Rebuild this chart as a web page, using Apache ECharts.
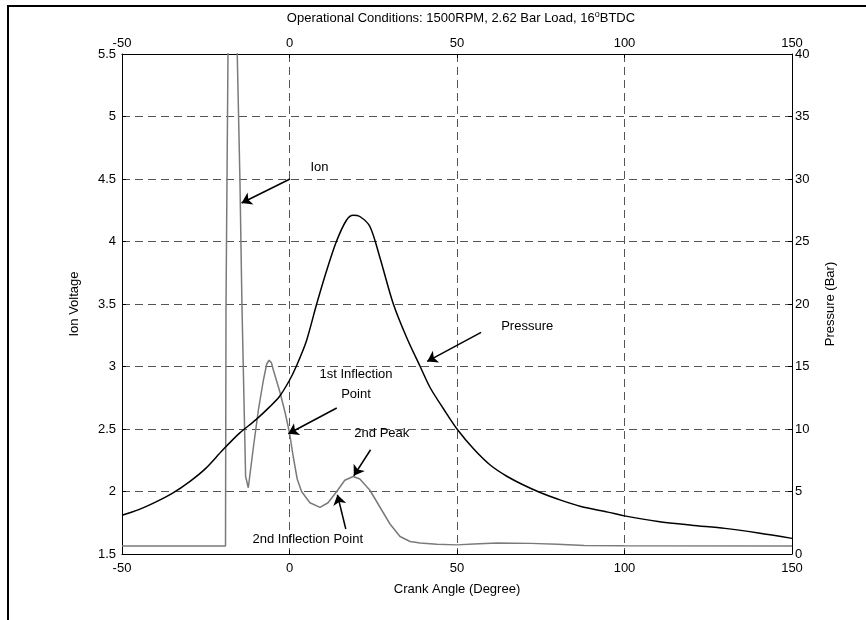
<!DOCTYPE html>
<html>
<head>
<meta charset="utf-8">
<script src="https://cdn.jsdelivr.net/npm/echarts@6/dist/echarts.min.js"></script>
<style>
  html, body { margin: 0; padding: 0; background: #fff; }
  #chart { width: 866px; height: 620px; }
</style>
</head>
<body>
<div id="chart"></div>
<script>
// crank angle (deg) / ion voltage (V)
var ionAngle = [-50, -19.1, -18.95, -18.36, -17.8, -15.6, -14.8, -14.2, -13.1, -12.3, -10.8, -9.3, -7.8, -6.8, -6.1, -5.4, -4.8, -2.8, -1.3, 0, 1.1, 2.3, 3.6, 6.1, 9.1, 11.5, 14.1, 16.5, 19, 21, 24, 26, 28, 30, 33, 36, 39, 44, 50, 55, 62, 72, 80, 88, 100, 150];
var ionVolt = [1.565, 1.565, 3.5, 5.5, 8.0, 5.5, 4.5, 3.5, 2.12, 2.03, 2.35, 2.65, 2.89, 3.02, 3.05, 3.03, 2.97, 2.79, 2.63, 2.47, 2.28, 2.1, 2.0, 1.91, 1.873, 1.91, 2.0, 2.09, 2.12, 2.1, 2.01, 1.92, 1.83, 1.74, 1.64, 1.6, 1.588, 1.578, 1.573, 1.58, 1.588, 1.585, 1.578, 1.568, 1.566, 1.565];

// crank angle (deg) / cylinder pressure (bar), black trace
var presAngle = [-50, -45, -40, -35, -30, -25, -20, -15, -10, -6, -3, 0, 2, 5, 8, 11, 14, 17, 19, 21, 24, 27, 31, 35, 39, 42, 46, 50, 55, 60, 65, 70, 75, 80, 87, 95, 100, 110, 120, 130, 140, 150];
var presBar = [3.1, 3.55, 4.15, 4.85, 5.75, 6.85, 8.3, 9.65, 10.75, 11.75, 12.6, 13.9, 15.0, 17.0, 19.9, 22.6, 25.0, 26.7, 27.1, 27.0, 26.2, 23.7, 20.0, 17.3, 15.0, 13.3, 11.6, 10.0, 8.4, 7.1, 6.2, 5.5, 4.9, 4.4, 3.8, 3.35, 3.05, 2.6, 2.3, 2.05, 1.68, 1.25];

var xTicks = [-50, 0, 50, 100, 150];
var ionTicks = [1.5, 5.5, 0.5];   // min, max, step
var presTicks = [0, 40, 5];

// annotations, in (angle, ion voltage) units
var noteText = ['Ion', 'Pressure', '1st Inflection\nPoint', '2nd Peak', '2nd Inflection Point'];
var noteAt = [[9.1, 4.59], [71.1, 3.316], [20.0, 2.85], [27.7, 2.462], [5.6, 1.614]];
var arrowFrom = [[0.15, 4.5], [57.2, 3.273], [14.1, 2.668], [24.2, 2.334], [16.8, 1.70]];
var arrowTo = [[-14.3, 4.308], [41.1, 3.041], [-0.36, 2.462], [19.2, 2.126], [14.3, 1.974]];

var font = 'Liberation Sans, Arial, sans-serif';

var ionData = ionAngle.map(function (a, i) { return [a, ionVolt[i]]; });
var presData = presAngle.map(function (a, i) { return [a, presBar[i]]; });
var noteData = noteText.map(function (t, i) { return { value: noteAt[i], name: t }; });
var arrows = arrowFrom.map(function (f, i) {
  return [{ coord: f }, { coord: arrowTo[i] }];
});

var gridDash = { color: '#555', width: 1, type: [8, 5] };
var axisCommon = {
  type: 'value',
  axisLine: { show: true, onZero: false, lineStyle: { color: '#000', width: 1 } },
  axisTick: { show: true, inside: true, length: 4, lineStyle: { color: '#000' } },
  axisLabel: { color: '#000', fontSize: 13, fontFamily: font },
  nameTextStyle: { color: '#000', fontSize: 13, fontFamily: font }
};

var chart = echarts.init(document.getElementById('chart'));
chart.setOption({
  animation: false,
  backgroundColor: '#fff',
  title: {
    text: 'Operational Conditions: 1500RPM, 2.62 Bar Load, 16{sup|o}BTDC',
    left: 456,
    top: 5,
    textAlign: 'center',
    textStyle: {
      color: '#000', fontSize: 13, fontWeight: 'normal', fontFamily: font,
      rich: { sup: { fontSize: 9, color: '#000', fontFamily: font, padding: [0, 0, 8, 0] } }
    }
  },
  graphic: [{
    type: 'rect',
    shape: { x: 8, y: 6, width: 1000, height: 800 },
    style: { fill: null, stroke: '#000', lineWidth: 2 },
    silent: true
  }],
  grid: { left: 122, right: 74, top: 54, bottom: 66 },
  xAxis: [
    Object.assign({}, axisCommon, {
      position: 'bottom',
      min: xTicks[0], max: xTicks[xTicks.length - 1], interval: xTicks[1] - xTicks[0],
      name: 'Crank Angle (Degree)', nameLocation: 'middle', nameGap: 29,
      axisLabel: Object.assign({}, axisCommon.axisLabel, { margin: 8 }),
      splitLine: { show: true, lineStyle: gridDash }
    }),
    Object.assign({}, axisCommon, {
      position: 'top',
      min: xTicks[0], max: xTicks[xTicks.length - 1], interval: xTicks[1] - xTicks[0],
      axisLabel: Object.assign({}, axisCommon.axisLabel, { margin: 4 }),
      splitLine: { show: false }
    })
  ],
  yAxis: [
    Object.assign({}, axisCommon, {
      position: 'left',
      min: ionTicks[0], max: ionTicks[1], interval: ionTicks[2],
      name: 'Ion Voltage', nameLocation: 'middle', nameGap: 41,
      axisLabel: Object.assign({}, axisCommon.axisLabel, { margin: 6 }),
      splitLine: { show: true, lineStyle: gridDash }
    }),
    Object.assign({}, axisCommon, {
      position: 'right',
      min: presTicks[0], max: presTicks[1], interval: presTicks[2],
      name: 'Pressure (Bar)', nameLocation: 'middle', nameGap: 32,
      axisLabel: Object.assign({}, axisCommon.axisLabel, { margin: 3 }),
      splitLine: { show: false }
    })
  ],
  series: [
    {
      name: 'Ion',
      type: 'line',
      xAxisIndex: 0, yAxisIndex: 0,
      data: ionData,
      showSymbol: false,
      clip: true,
      lineStyle: { color: '#7a7a7a', width: 1.5 },
      itemStyle: { color: '#7a7a7a' },
      markLine: {
        silent: true,
        symbol: ['none', 'arrow'],
        symbolSize: 10,
        label: { show: false },
        itemStyle: { color: '#000' },
        lineStyle: { color: '#000', width: 1.5, type: 'solid' },
        data: arrows
      }
    },
    {
      name: 'Pressure',
      type: 'line',
      xAxisIndex: 0, yAxisIndex: 1,
      data: presData,
      smooth: 0.3,
      showSymbol: false,
      lineStyle: { color: '#000', width: 1.5 },
      itemStyle: { color: '#000' }
    },
    {
      name: 'notes',
      type: 'scatter',
      xAxisIndex: 0, yAxisIndex: 0,
      data: noteData,
      symbolSize: 1,
      silent: true,
      itemStyle: { color: 'transparent', opacity: 1 },
      label: {
        show: true,
        position: [0, 0],
        verticalAlign: 'middle',
        formatter: function (p) { return p.name; },
        color: '#000', fontSize: 13, fontFamily: font, align: 'center', lineHeight: 20,
        textBorderWidth: 0, opacity: 1
      }
    }
  ]
});
</script>
</body>
</html>
